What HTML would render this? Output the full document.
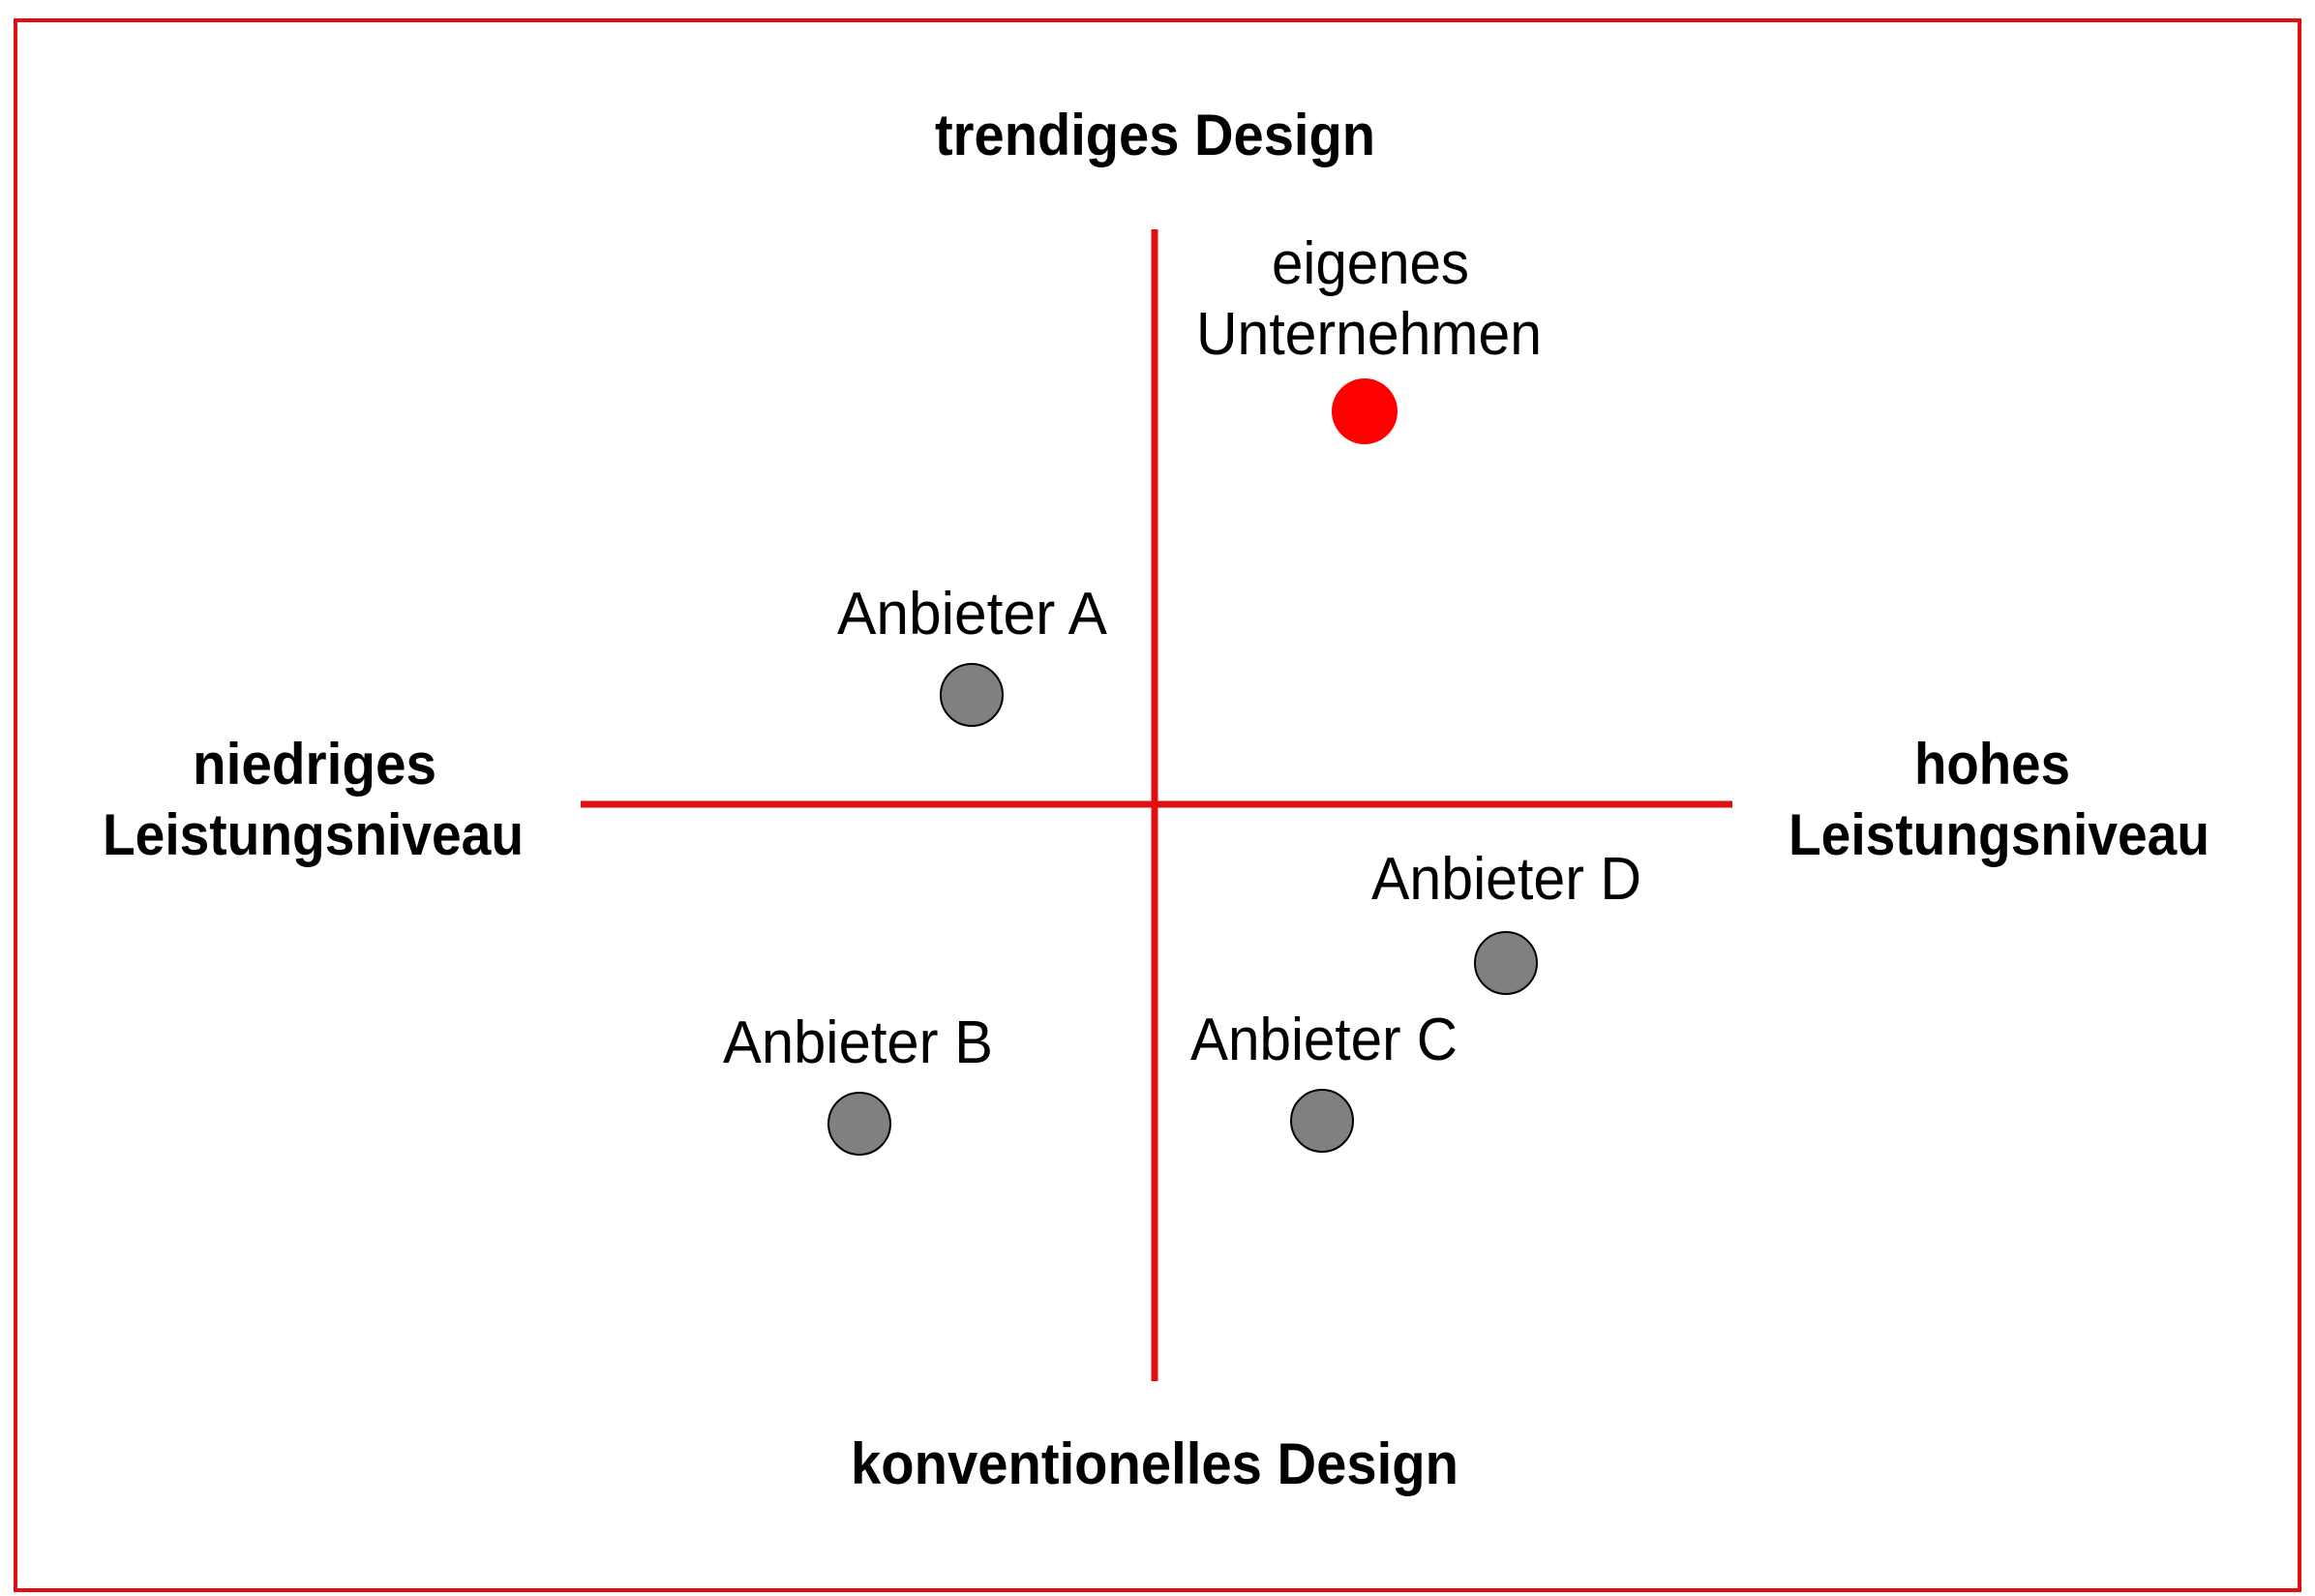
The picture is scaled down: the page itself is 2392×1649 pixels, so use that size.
<!DOCTYPE html>
<html><head><meta charset="utf-8"><style>html,body{margin:0;padding:0;background:#fff}svg{display:block}</style></head>
<body>
<svg width="2392" height="1649" viewBox="0 0 2392 1649" xmlns="http://www.w3.org/2000/svg">
<rect x="0" y="0" width="2392" height="1649" fill="#fff"/>
<rect x="16" y="21" width="2360" height="1622" fill="none" stroke="#e01010" stroke-width="4"/>
<line x1="1193" y1="237" x2="1193" y2="1427" stroke="#e01010" stroke-width="7"/>
<line x1="600" y1="831" x2="1790" y2="831" stroke="#e01010" stroke-width="7"/>
<circle cx="1410" cy="425" r="34" fill="#ff0000"/>
<g fill="#808080" stroke="#000" stroke-width="2">
<circle cx="1004" cy="718" r="32"/>
<circle cx="888" cy="1161" r="32"/>
<circle cx="1366" cy="1158" r="32"/>
<circle cx="1556" cy="995" r="32"/>
</g>
<g font-family="Liberation Sans, sans-serif" fill="#000">
<g font-weight="bold" font-size="60">
<text x="966" y="160" textLength="455" lengthAdjust="spacingAndGlyphs">trendiges Design</text>
<text x="879" y="1533" textLength="628" lengthAdjust="spacingAndGlyphs">konventionelles Design</text>
<text x="199" y="810" textLength="252" lengthAdjust="spacingAndGlyphs">niedriges</text>
<text x="106" y="883" textLength="435" lengthAdjust="spacingAndGlyphs">Leistungsniveau</text>
<text x="1978" y="810" textLength="161" lengthAdjust="spacingAndGlyphs">hohes</text>
<text x="1848" y="883" textLength="435" lengthAdjust="spacingAndGlyphs">Leistungsniveau</text>
</g>
<g font-size="62">
<text x="1314" y="293" textLength="204" lengthAdjust="spacingAndGlyphs">eigenes</text>
<text x="1236" y="366" textLength="357" lengthAdjust="spacingAndGlyphs">Unternehmen</text>
<text x="865" y="655" textLength="279" lengthAdjust="spacingAndGlyphs">Anbieter A</text>
<text x="1417" y="929" textLength="279" lengthAdjust="spacingAndGlyphs">Anbieter D</text>
<text x="747" y="1098" textLength="279" lengthAdjust="spacingAndGlyphs">Anbieter B</text>
<text x="1230" y="1095" textLength="276" lengthAdjust="spacingAndGlyphs">Anbieter C</text>
</g>
</g>
</svg>
</body></html>
